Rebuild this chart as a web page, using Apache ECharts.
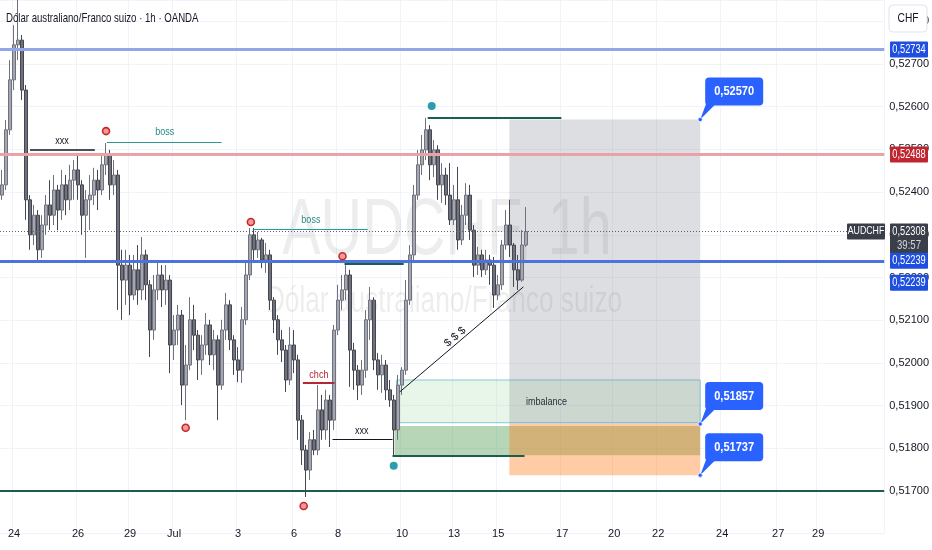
<!DOCTYPE html>
<html><head><meta charset="utf-8">
<script src="https://cdn.jsdelivr.net/npm/echarts/dist/echarts.min.js"></script>
<style>html,body{margin:0;padding:0;background:#fff}#c{width:932px;height:550px}</style>
</head><body><div id="c"></div>
<script>
const FONT = "'Liberation Sans',Arial,sans-serif";

// ---- data ----
const slotCount = 221; // 3-hour slots across the visible time range
const tickIdx = [3,19,32,43,59,73,84,100,113,124,140,153,164,180,194,204];
const tickLabels = ['24','26','29','Jul','3','6','8','10','13','15','17','20','22','24','27','29'];
// [open, close, low, high]
const candles = [
[0.52393,0.52417,0.52382,0.52452],[0.52417,0.52546,0.52405,0.52569],[0.52546,0.52663,0.52534,0.52709],[0.52663,0.52745,0.52639,0.52791],
[0.52745,0.52756,0.52709,0.52850],[0.52756,0.52639,0.52616,0.52768],[0.52639,0.52382,0.52335,0.52651],[0.52382,0.52300,0.52265,0.52393],
[0.52300,0.52346,0.52276,0.52370],[0.52346,0.52265,0.52236,0.52358],[0.52265,0.52323,0.52246,0.52346],[0.52323,0.52370,0.52300,0.52393],
[0.52370,0.52346,0.52311,0.52428],[0.52346,0.52405,0.52323,0.52440],[0.52405,0.52358,0.52311,0.52417],[0.52358,0.52417,0.52335,0.52452],
[0.52417,0.52382,0.52346,0.52440],[0.52382,0.52428,0.52358,0.52464],[0.52428,0.52452,0.52382,0.52475],[0.52452,0.52417,0.52382,0.52487],
[0.52417,0.52346,0.52300,0.52428],[0.52346,0.52382,0.52246,0.52405],[0.52382,0.52393,0.52311,0.52440],[0.52393,0.52428,0.52370,0.52457],
[0.52428,0.52405,0.52358,0.52452],[0.52405,0.52464,0.52393,0.52487],[0.52464,0.52487,0.52440,0.52515],[0.52487,0.52417,0.52382,0.52499],
[0.52417,0.52440,0.52393,0.52475],[0.52440,0.52229,0.52124,0.52452],[0.52229,0.52194,0.52101,0.52265],[0.52194,0.52229,0.52136,0.52265],
[0.52229,0.52159,0.52112,0.52253],[0.52159,0.52218,0.52147,0.52253],[0.52218,0.52171,0.52136,0.52276],[0.52171,0.52253,0.52147,0.52295],
[0.52253,0.52183,0.52147,0.52265],[0.52183,0.52077,0.52014,0.52194],[0.52077,0.52171,0.52054,0.52206],[0.52171,0.52206,0.52147,0.52241],
[0.52206,0.52171,0.52131,0.52229],[0.52171,0.52194,0.52136,0.52229],[0.52194,0.52042,0.51976,0.52206],[0.52042,0.52077,0.52007,0.52112],
[0.52077,0.52112,0.52042,0.52136],[0.52112,0.51948,0.51901,0.52124],[0.51948,0.51995,0.51866,0.52042],[0.51995,0.52101,0.51983,0.52154],
[0.52101,0.52065,0.52030,0.52136],[0.52065,0.52007,0.51960,0.52077],[0.52007,0.52042,0.51972,0.52065],[0.52042,0.52089,0.52019,0.52117],
[0.52089,0.52019,0.51995,0.52101],[0.52019,0.52054,0.51983,0.52077],[0.52054,0.51948,0.51866,0.52065],[0.51948,0.52077,0.51937,0.52101],
[0.52077,0.52136,0.52054,0.52164],[0.52136,0.52054,0.52030,0.52147],[0.52054,0.52007,0.51972,0.52065],[0.52007,0.51983,0.51955,0.52037],
[0.51983,0.52101,0.51953,0.52131],[0.52101,0.52206,0.52089,0.52241],[0.52206,0.52300,0.52194,0.52316],[0.52300,0.52265,0.52236,0.52316],
[0.52265,0.52288,0.52246,0.52307],[0.52288,0.52241,0.52222,0.52293],[0.52241,0.52253,0.52211,0.52281],[0.52253,0.52147,0.52124,0.52265],
[0.52147,0.52101,0.52070,0.52154],[0.52101,0.52054,0.52019,0.52112],[0.52054,0.52030,0.52002,0.52077],[0.52030,0.51960,0.51932,0.52042],
[0.51960,0.52042,0.51948,0.52084],[0.52042,0.52007,0.51976,0.52077],[0.52007,0.51866,0.51820,0.52019],[0.51866,0.51796,0.51761,0.51878],
[0.51796,0.51749,0.51686,0.51808],[0.51749,0.51820,0.51726,0.51838],[0.51820,0.51796,0.51784,0.51843],[0.51796,0.51890,0.51784,0.51948],
[0.51890,0.51843,0.51820,0.51925],[0.51843,0.51913,0.51820,0.51937],[0.51913,0.51866,0.51803,0.51925],[0.51866,0.52077,0.51843,0.52089],
[0.52077,0.52147,0.52065,0.52183],[0.52147,0.52171,0.52124,0.52206],[0.52171,0.52206,0.52147,0.52229],[0.52206,0.52030,0.51944,0.52218],
[0.52030,0.51983,0.51937,0.52047],[0.51983,0.51948,0.51913,0.51995],[0.51948,0.51983,0.51925,0.52007],[0.51983,0.52101,0.51965,0.52124],
[0.52101,0.52147,0.52054,0.52178],[0.52147,0.52007,0.51983,0.52154],[0.52007,0.51972,0.51937,0.52023],[0.51972,0.51995,0.51930,0.52019],
[0.51995,0.51937,0.51913,0.52007],[0.51937,0.51913,0.51897,0.51960],[0.51913,0.51843,0.51784,0.51925],[0.51843,0.51948,0.51820,0.51972],
[0.51948,0.51983,0.51925,0.51990],[0.51983,0.52147,0.51972,0.52194],[0.52147,0.52253,0.52136,0.52276],[0.52253,0.52393,0.52241,0.52417],
[0.52393,0.52464,0.52382,0.52499],[0.52464,0.52499,0.52440,0.52534],[0.52499,0.52546,0.52475,0.52574],[0.52546,0.52464,0.52428,0.52557],
[0.52464,0.52499,0.52435,0.52522],[0.52499,0.52417,0.52382,0.52510],[0.52417,0.52440,0.52375,0.52468],[0.52440,0.52393,0.52370,0.52457],
[0.52393,0.52335,0.52323,0.52468],[0.52335,0.52382,0.52323,0.52417],[0.52382,0.52288,0.52265,0.52459],[0.52288,0.52346,0.52276,0.52370],
[0.52346,0.52393,0.52323,0.52421],[0.52393,0.52311,0.52288,0.52417],[0.52311,0.52229,0.52201,0.52323],[0.52229,0.52253,0.52206,0.52272],
[0.52253,0.52218,0.52201,0.52265],[0.52218,0.52241,0.52206,0.52265],[0.52241,0.52229,0.52183,0.52253],[0.52229,0.52159,0.52129,0.52248],
[0.52159,0.52183,0.52147,0.52206],[0.52183,0.52276,0.52171,0.52288],[0.52276,0.52323,0.52265,0.52358],[0.52323,0.52276,0.52248,0.52382],
[0.52276,0.52218,0.52178,0.52281],[0.52218,0.52194,0.52171,0.52253],[0.52194,0.52276,0.52190,0.52311],[0.52276,0.52308,0.52272,0.52365]
];
// horizontal levels
const levelPrices = [0.52734, 0.52488, 0.52239, 0.51700];
const lastPrice = 0.52308;
const targetPrice = 0.52570, entryPrice = 0.51857, stopPrice = 0.51737;
const imbalanceTop = 0.51960, imbalanceBottom = 0.51860;
const demandTop = 0.51852, demandBottom = 0.51784;
// annotation coordinates in [slot, price]
const posStart = 126.8, posEnd = 174.5;
const segXxx1 = [[7.0,0.52499],[23.2,0.52499]];
const segBoss1 = [[26.2,0.52517],[54.9,0.52517]];
const segBoss2 = [[62.7,0.52314],[91.4,0.52314]];
const segHigh2 = [[85.6,0.52232],[100.4,0.52232]];
const segChch = [[75.2,0.51953],[83.1,0.51953]];
const segXxx2 = [[82.6,0.51822],[97.6,0.51822]];
const segLow = [[97.6,0.51782],[130.6,0.51782]];
const segTop = [[106.4,0.52574],[139.8,0.52574]];
const segTrend = [[99.4,0.51932],[130.3,0.52178]];
const redMarks = [[26.0,0.52543],[62.2,0.52330],[85.1,0.52250],[45.9,0.51848],[75.4,0.51665]];
const tealMarks = [[97.9,0.51759],[107.4,0.52602]];
const textMarks = [
  ['xxx',15.0,0.52520,'#131722'],['boss',40.7,0.52541,'#2a8a86'],['boss',77.2,0.52335,'#2a8a86'],
  ['chch',79.2,0.51972,'#b22833'],['xxx',89.9,0.51841,'#131722'],['imbalance',136.1,0.51909,'#2a2e39']
];

// ---- build ----
const cats = Array.from({length: slotCount}, (_, i) => 's' + i);
const tickMap = {}; tickIdx.forEach((k, j) => tickMap[k] = tickLabels[j]);
const fmt = v => v.toFixed(5).replace('.', ',');
const seg = (s, color, width, type) => [{coord: s[0], lineStyle: {color, width, type: type || 'solid'}}, {coord: s[1]}];
const isMajor = v => Math.abs(v * 1000 - Math.round(v * 1000)) < 1e-6 && v < 0.5282 && v > 0.5165;

const chart = echarts.init(document.getElementById('c'), null, {renderer: 'canvas'});
chart.setOption({
  animation: false,
  backgroundColor: '#ffffff',
  textStyle: {fontFamily: FONT},
  grid: {left: 0, right: 47, top: 0, bottom: 16.3},
  xAxis: [{
    type: 'category', data: cats, boundaryGap: true, offset: -13,
    axisLine: {show: false}, axisTick: {show: false},
    axisLabel: {interval: i => tickMap[i] !== undefined, formatter: (v, i) => tickMap[i] || '', color: '#131722', fontSize: 11, fontFamily: FONT},
    splitLine: {show: true, interval: i => tickMap[i] !== undefined, lineStyle: {color: '#f0f3fa', width: 1}}
  }, {
    type: 'value', min: -0.5, max: slotCount - 0.5, show: false
  }],
  yAxis: [{
    type: 'value', position: 'right', min: 0.516, max: 0.5285, interval: 0.001,
    axisLine: {show: false}, axisTick: {show: false},
    axisLabel: {margin: 5, color: '#131722', fontSize: 11, fontFamily: FONT,
      formatter: v => isMajor(v) ? fmt(v) : ''},
    splitLine: {lineStyle: {color: '#f0f3fa', width: 1}}
  }],
  series: [{
    type: 'candlestick', xAxisIndex: 0, yAxisIndex: 0, data: candles, barWidth: 3, z: 3,
    itemStyle: {color: '#a4a7b0', color0: '#6f727c', borderColor: '#6f727c', borderColor0: '#44474f', borderWidth: 1},
    markLine: {silent: true, precision: 6, symbol: ['none', 'none'], label: {show: false}, data: [
      {yAxis: levelPrices[0], lineStyle: {color: '#94a6ea', width: 3, type: 'solid'}},
      {yAxis: levelPrices[1], lineStyle: {color: '#e7a3a6', width: 3, type: 'solid'}},
      {yAxis: levelPrices[2], lineStyle: {color: '#4a74dc', width: 3, type: 'solid'}},
      {yAxis: levelPrices[3], lineStyle: {color: '#1e5b4c', width: 2, type: 'solid'}},
      {yAxis: lastPrice, lineStyle: {color: '#5d606b', width: 1, type: [1, 2]}}
    ]}
  }, {
    type: 'line', xAxisIndex: 1, yAxisIndex: 0, data: [], silent: true,
    markArea: {silent: true, label: {show: false}, data: [
      [{coord: [98.1, demandTop], itemStyle: {color: 'rgba(76,153,76,0.40)'}}, {coord: [posEnd, demandBottom]}],
      [{coord: [98.6, imbalanceTop], itemStyle: {color: 'rgba(120,200,125,0.17)', borderColor: '#86c9d8', borderWidth: 1}}, {coord: [posEnd, imbalanceBottom]}],
      [{coord: [posStart, targetPrice], itemStyle: {color: 'rgba(120,123,134,0.25)'}}, {coord: [posEnd, entryPrice]}],
      [{coord: [posStart, entryPrice], itemStyle: {color: 'rgba(255,120,20,0.38)'}}, {coord: [posEnd, stopPrice]}]
    ]},
    markLine: {silent: true, precision: 6, symbol: ['none', 'none'], label: {show: false}, data: [
      seg(segXxx1, '#131722', 1.5), seg(segBoss1, '#2a9a96', 1), seg(segBoss2, '#2a9a96', 1),
      seg(segHigh2, '#1b5e4f', 2), seg(segChch, '#b22833', 2), seg(segXxx2, '#131722', 1),
      seg(segLow, '#1b5e4f', 2), seg(segTop, '#1b5e4f', 2), seg(segTrend, '#131722', 1)
    ]},
    markPoint: {silent: true, label: {show: false}, data: [
      ...redMarks.map(c => ({coord: c, symbol: 'circle', symbolSize: 7, itemStyle: {color: '#f19a9a', borderColor: '#c62828', borderWidth: 1.6}})),
      ...tealMarks.map(c => ({coord: c, symbol: 'circle', symbolSize: 8, itemStyle: {color: '#2a9fab'}}))
    ]}
  }]
});

// ---- overlay texts & price tags ----
const px = v => chart.convertToPixel({xAxisIndex: 1}, v);
const py = p => chart.convertToPixel({yAxisIndex: 0}, p);
const g = [];
function txt(x, y, text, font, fill, align, sx, z) {
  g.push({type: 'text', x, y, scaleX: sx || 1, z: z === undefined ? 71 : z,
    style: {text, fill, font: font + ' ' + FONT, align: align || 'center', verticalAlign: 'middle'}});
}
txt(6, 18, 'Dólar australiano/Franco suizo · 1h · OANDA', '500 13px', '#131722', 'left', 0.74, 60);
txt(447, 232, 'AUDCHF, 1h', '80px', 'rgba(42,46,57,0.085)', 'center', 0.72, 0);
txt(444, 302, 'Dólar australiano/Franco suizo', '36px', 'rgba(42,46,57,0.085)', 'center', 0.73, 0);
textMarks.forEach(t => txt(px(t[1]), py(t[2]), t[0], '11px', t[3], 'center', 0.82, 60));
// $ $ $ along trend
{
  const x1 = px(segTrend[0][0]), y1 = py(segTrend[0][1]), x2 = px(segTrend[1][0]), y2 = py(segTrend[1][1]);
  const ang = Math.atan2(y1 - y2, x2 - x1);
  const t = 0.48, cx = x1 + (x2 - x1) * t, cy = y1 + (y2 - y1) * t;
  g.push({type: 'text', x: cx - 6 * Math.sin(ang), y: cy - 6 * Math.cos(ang), rotation: ang, z: 60,
    style: {text: '$ $ $', fill: '#131722', font: '11px ' + FONT, align: 'center', verticalAlign: 'middle'}});
}
// right-axis tags
function tag(y, text, bg) {
  g.push({type: 'rect', z: 70, shape: {x: 890, y: y - 8, width: 38, height: 16, r: 1}, style: {fill: bg}});
  txt(909, y, text, '12px', '#fff', 'center', 0.77);
}
g.push({type: 'rect', z: 70, shape: {x: 889, y: 5, width: 38, height: 27, r: 4}, style: {fill: '#fff', stroke: '#e0e3eb', lineWidth: 1}});
txt(908, 18.5, 'CHF', '12px', '#131722', 'center', 0.85);
tag(py(levelPrices[0]), fmt(levelPrices[0]), '#1f4fe0');
tag(py(levelPrices[1]), fmt(levelPrices[1]), '#c0262f');
{
  const y = py(lastPrice);
  g.push({type: 'rect', z: 70, shape: {x: 847, y: y - 8, width: 38, height: 16, r: 1}, style: {fill: '#3a3e48'}});
  txt(866, y, 'AUDCHF', '11px', '#fff', 'center', 0.8);
  g.push({type: 'rect', z: 70, shape: {x: 890, y: y - 8, width: 38, height: 30, r: 1}, style: {fill: '#3a3e48'}});
  txt(909, y, fmt(lastPrice), '12px', '#fff', 'center', 0.77);
  txt(909, y + 14, '39:57', '12px', '#d1d4dc', 'center', 0.8);
}
tag(py(levelPrices[2]), fmt(levelPrices[2]), '#1f4fe0');
tag(py(levelPrices[2]) + 22, fmt(levelPrices[2]), '#1f4fe0');
// callouts
[targetPrice, entryPrice, stopPrice].forEach(p => {
  const x = px(posEnd), y = py(p);
  g.push({type: 'polygon', z: 72, shape: {points: [[x, y], [x + 6, y - 16], [x + 16, y - 16]]}, style: {fill: '#2962ff'}});
  g.push({type: 'rect', z: 72, shape: {x: x + 5, y: y - 42, width: 58, height: 28, r: 4}, style: {fill: '#2962ff'}});
  txt(x + 34, y - 28, fmt(p), 'bold 13px', '#fff', 'center', 0.85, 73);
  g.push({type: 'circle', z: 73, shape: {cx: x, cy: y, r: 2.2}, style: {fill: '#2962ff', stroke: '#fff', lineWidth: 0.8}});
});
chart.setOption({graphic: g});
</script></body></html>
